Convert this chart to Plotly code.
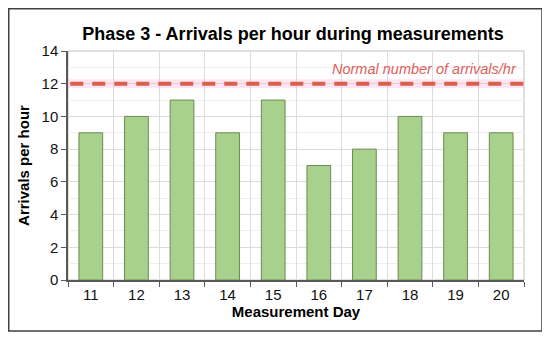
import plotly.graph_objects as go

days = ["11", "12", "13", "14", "15", "16", "17", "18", "19", "20"]
arrivals = [9, 10, 11, 9, 11, 7, 8, 10, 9, 9]
normal_rate = 12
normal_label = "Normal number of arrivals/hr"
title_text = "Phase 3 - Arrivals per hour during measurements"
x_title = "Measurement Day"
y_title = "Arrivals per hour"
y_ticks = [0, 2, 4, 6, 8, 10, 12, 14]

FONT = "Liberation Sans, Arial, sans-serif"
# page has an 8px body margin; work in figure coordinates
OFF = 8
W, H = 550 - OFF, 342 - OFF
L, R, T, B = 68 - OFF, 524 - OFF, 51 - OFF, 280 - OFF
PW, PH = R - L, B - T

fig = go.Figure()
fig.add_trace(go.Bar(
    x=days, y=arrivals, width=0.52,
    marker=dict(color="#a9d18e", line=dict(color="#6b8b4e", width=1)),
    showlegend=False, hoverinfo="x+y",
))

# glow + dashed line for normal rate
fig.add_shape(type="line", xref="paper", x0=0, x1=1, yref="y", y0=normal_rate, y1=normal_rate,
              line=dict(color="rgba(255,180,215,0.35)", width=9), layer="above")
fig.add_shape(type="line", xref="paper", x0=0.005, x1=1, yref="y", y0=normal_rate, y1=normal_rate,
              line=dict(color="#d9604c", width=4, dash="13px,9px"), layer="above")
fig.add_annotation(xref="paper", x=(517 - OFF - L) / PW, yref="y", y=12.9, text=normal_label, showarrow=False,
                   xanchor="right", yanchor="middle", xshift=2,
                   font=dict(family=FONT, size=14.5, color="#e0605a", style="italic"))

# outer frame
fig.add_shape(type="rect", xref="paper", yref="paper",
              x0=(8 - OFF - L + 0.75) / PW, x1=(542 - OFF - L) / PW,
              y0=(B - (331 - OFF)) / PH, y1=(B - (8 - OFF) - 0.75) / PH,
              line=dict(color="#404040", width=1.5), layer="below")

fig.update_layout(
    width=W, height=H,
    margin=dict(l=L, r=W - R, t=T, b=H - B),
    paper_bgcolor="white", plot_bgcolor="white",
    title=dict(text="<b>" + title_text + "</b>", x=(293 - OFF) / W, xanchor="center",
               y=1 - (34 - OFF) / H, yanchor="middle", yref="container",
               font=dict(family=FONT, size=18, color="black")),
    font=dict(family=FONT, size=15, color="#111"),
)
fig.update_xaxes(
    type="category", tickson="boundaries", ticks="outside", ticklen=5, tickcolor="#595959",
    showgrid=True, gridcolor="#dcdcdc", gridwidth=1,
    showline=True, linecolor="#595959", linewidth=1.5, mirror=False,
    title=dict(text="<b>" + x_title + "</b>", font=dict(family=FONT, size=15, color="black"), standoff=0),
    tickfont=dict(family=FONT, size=15, color="#111"),
)
fig.update_yaxes(
    range=[0, 14], tickvals=y_ticks, ticks="outside", ticklen=5, tickcolor="#595959",
    showgrid=True, gridcolor="#dcdcdc", gridwidth=1,
    minor=dict(dtick=1, showgrid=True, gridcolor="#efefef", gridwidth=1),
    showline=True, linecolor="#595959", linewidth=1.5,
    zeroline=False,
    title=dict(text="<b>" + y_title + "</b>", font=dict(family=FONT, size=15, color="black"), standoff=8),
    tickfont=dict(family=FONT, size=15, color="#111"),
)
# right/top plot border (light)
fig.add_shape(type="rect", xref="paper", yref="paper", x0=0, x1=1, y0=0, y1=1,
              line=dict(color="#bfbfbf", width=1), layer="below")

fig.write_html("out.html")
